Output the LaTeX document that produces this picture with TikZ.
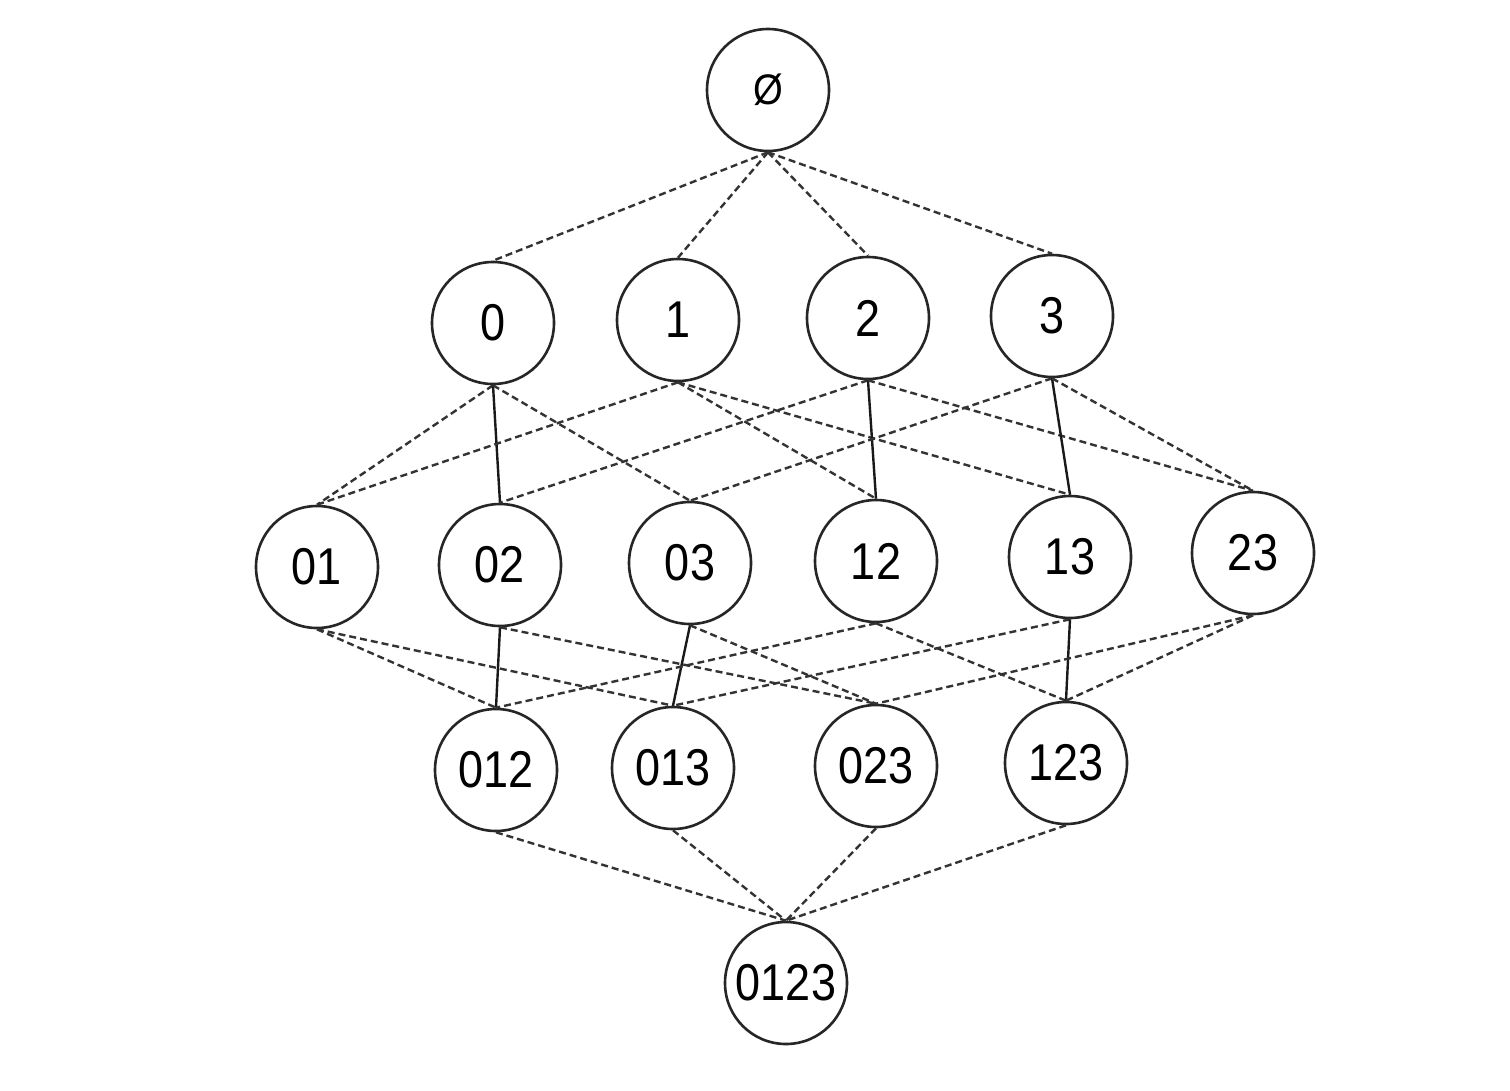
\documentclass[tikz,border=0pt]{standalone}
\usepackage{fontspec}
\setmainfont{Liberation Sans}
\newcommand{\lbl}[1]{\scalebox{1}[1.15]{#1}}
\begin{document}
\begin{tikzpicture}[x=1pt,y=-1pt,
  setnode/.style={circle,draw=black!85,line width=2.6pt,minimum size=122pt,inner sep=0pt,
    font=\fontsize{45}{50}\selectfont},
  dl/.style={draw=black!80,line width=2.4pt,dash pattern=on 7pt off 4pt},
  sl/.style={draw=black!90,line width=2.4pt}]
\fill[white] (0,0) rectangle (1510,1090);
\useasboundingbox (0,0) rectangle (1510,1090);
\node[setnode] (e) at (768,90) {\scalebox{0.85}[0.95]{Ø}};
\node[setnode] (n0) at (493,323) {\lbl{0}};
\node[setnode] (n1) at (678,320) {\lbl{1}};
\node[setnode] (n2) at (868,318) {\lbl{2}};
\node[setnode] (n3) at (1052,316) {\lbl{3}};
\node[setnode] (n01) at (317,567) {\lbl{01}};
\node[setnode] (n02) at (500,565) {\lbl{02}};
\node[setnode] (n03) at (690,563) {\lbl{03}};
\node[setnode] (n12) at (876,561) {\lbl{12}};
\node[setnode] (n13) at (1070,557) {\lbl{13}};
\node[setnode] (n23) at (1253,553) {\lbl{23}};
\node[setnode] (n012) at (496,770) {\lbl{012}};
\node[setnode] (n013) at (673,768) {\lbl{013}};
\node[setnode] (n023) at (876,766) {\lbl{023}};
\node[setnode] (n123) at (1066,763) {\lbl{123}};
\node[setnode] (n0123) at (786,983) {\lbl{0123}};
% level 0 -> 1
\foreach \b in {n0,n1,n2,n3} \path[dl] (e.south) -- (\b.north);
% level 1 -> 2
\path[dl] (n0.south) -- (n01.north);
\path[sl] (n0.south) -- (n02.north);
\path[dl] (n0.south) -- (n03.north);
\path[dl] (n1.south) -- (n01.north);
\path[dl] (n1.south) -- (n12.north);
\path[dl] (n1.south) -- (n13.north);
\path[dl] (n2.south) -- (n02.north);
\path[sl] (n2.south) -- (n12.north);
\path[dl] (n2.south) -- (n23.north);
\path[dl] (n3.south) -- (n03.north);
\path[sl] (n3.south) -- (n13.north);
\path[dl] (n3.south) -- (n23.north);
% level 2 -> 3
\path[dl] (n01.south) -- (n012.north);
\path[dl] (n01.south) -- (n013.north);
\path[sl] (n02.south) -- (n012.north);
\path[dl] (n02.south) -- (n023.north);
\path[sl] (n03.south) -- (n013.north);
\path[dl] (n03.south) -- (n023.north);
\path[dl] (n12.south) -- (n012.north);
\path[dl] (n12.south) -- (n123.north);
\path[dl] (n13.south) -- (n013.north);
\path[sl] (n13.south) -- (n123.north);
\path[dl] (n23.south) -- (n023.north);
\path[dl] (n23.south) -- (n123.north);
% level 3 -> 4
\foreach \a in {n012,n013,n023,n123} \path[dl] (\a.south) -- (n0123.north);
\end{tikzpicture}
\end{document}
